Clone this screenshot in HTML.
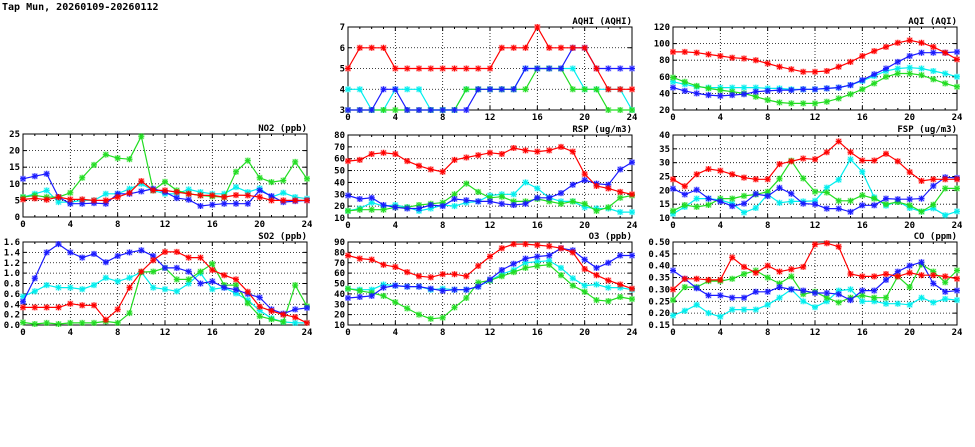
<!DOCTYPE html>
<html><head><meta charset="utf-8"><style>
html,body{margin:0;padding:0;background:#fff;width:975px;height:447px;overflow:hidden}
svg text{font-family:"DejaVu Sans Mono","Liberation Mono",monospace;font-weight:bold;font-size:9px;fill:#000}
</style></head><body>
<svg id="s" width="975" height="447" xmlns="http://www.w3.org/2000/svg">
<text x="2" y="10" style="font-size:10px">Tap Mun, 20260109-20260112</text>
</svg>
<script>
const S=document.getElementById('s');
const C={r:'#ff0000',g:'#22dd22',b:'#1a1aff',c:'#00eeee'};
const panels=[
{t:'AQHI (AQHI)',x:348,y:27,min:3,max:7,step:1,dec:0,d:{
c:[4,4,3,3,4,4,4,3,3,3,4,4,4,4,4,5,5,5,5,5,4,4,4,4,3],
g:[3,3,3,3,3,3,3,3,3,3,4,4,4,4,4,4,5,5,5,4,4,4,3,3,3],
b:[3,3,3,4,4,3,3,3,3,3,3,4,4,4,4,5,5,5,5,6,6,5,5,5,5],
r:[5,6,6,6,5,5,5,5,5,5,5,5,5,6,6,6,7,6,6,6,6,5,4,4,4]}},
{t:'AQI (AQI)',x:673,y:27,min:20,max:120,step:20,dec:0,d:{
c:[54,51,48,47,47,47,47,47,46,46,45,45,45,46,47,50,55,61,67,70,71,70,67,64,60],
g:[59,54,49,46,44,42,40,36,32,29,28,28,28,30,34,39,45,52,60,64,64,62,57,52,48],
b:[47,43,40,38,37,38,39,42,43,44,44,45,45,46,47,50,56,63,70,78,85,89,89,89,90],
r:[90,90,89,87,85,83,82,80,76,72,69,66,66,67,72,78,85,91,96,101,104,101,96,89,81]}},
{t:'NO2 (ppb)',x:23,y:134,min:0,max:25,step:5,dec:0,d:{
c:[6,7,8,4.5,4.5,5,5,7,7,8.5,10,8,7,7,8.3,7.5,7,7,9,7.5,8.6,6,7.3,6,5.5],
g:[6,6.5,6,6,7.3,11.8,15.7,18.8,17.7,17.4,24.3,8,10.6,8,7,6.5,6.2,6,13.6,17,11.8,10.5,11,16.6,11.5],
b:[11.5,12.3,13,6,4,4,4.2,4,7,7,7.7,8.5,7.5,5.7,5.2,3.3,3.7,4,4,4,8,6.3,4.5,4.8,5],
r:[5.3,5.6,5.2,6,5.3,5.3,5,5,6,7.3,10.8,8,8,7.5,7,6.5,6.5,6,6.6,6.5,6,5,5,5,5]}},
{t:'RSP (ug/m3)',x:348,y:135,min:10,max:80,step:10,dec:0,d:{
c:[16,18,23,20,21,19,16,18,21,20,23,24,29,30,30,40,35,27,24,24,19,18,18,15,15],
g:[16,17,17,17,19,19,21,22,23,30,39,32,27,28,24,24,26,24,22,24,22,16,19,27,29],
b:[29,26,27,21,19,18,18,21,20,26,25,24,24,22,21,22,27,27,31,38,42,39,38,51,57],
r:[58,59,64,65,64,58,54,51,49,59,61,63,65,64,69,67,66,67,70,66,47,37,35,32,30]}},
{t:'FSP (ug/m3)',x:673,y:135,min:10,max:40,step:5,dec:0,d:{
c:[11.5,14,17,17,16.5,15.2,12,13.6,18.5,15.5,16,16,16.2,21,23.8,31.2,26.7,17.5,14.5,16,13.6,12.3,13.5,11,12.4],
g:[12.6,14.7,14,14.7,17,17,18,18.5,19.5,24.2,30.7,24.3,19.5,19.2,16.2,16.2,18.2,17,15,15.8,14.6,12.3,14.8,20.7,20.7],
b:[20.6,18.5,20.2,17,16,14.3,15.2,18.7,17.9,20.9,18.8,15.2,15,13.4,13.4,12.2,14.6,14.6,17,16.8,16.8,17,21.6,24.7,24.5],
r:[24,21.5,25.8,27.7,27.1,25.8,24.6,24,24,29.5,30.5,31.5,31.2,33.8,37.7,33.8,30.8,30.8,33.2,30.5,26.6,23.4,24,24,24]}},
{t:'SO2 (ppb)',x:23,y:242,min:0,max:1.6,step:0.2,dec:1,d:{
c:[0.55,0.65,0.77,0.72,0.72,0.69,0.77,0.91,0.84,0.91,1.02,0.72,0.69,0.65,0.8,1.0,0.69,0.72,0.61,0.48,0.28,0.13,0.06,0.04,0.04],
g:[0.05,0.02,0.04,0.02,0.04,0.04,0.04,0.07,0.04,0.23,1.02,1.03,1.1,0.88,0.88,1.03,1.18,0.77,0.77,0.42,0.17,0.11,0.06,0.77,0.36],
b:[0.45,0.9,1.4,1.56,1.4,1.3,1.37,1.21,1.33,1.4,1.44,1.33,1.1,1.1,1.03,0.8,0.84,0.72,0.68,0.6,0.53,0.3,0.22,0.3,0.33],
r:[0.34,0.34,0.34,0.34,0.41,0.38,0.38,0.1,0.3,0.72,1.03,1.25,1.41,1.41,1.3,1.3,1.06,0.96,0.88,0.64,0.35,0.27,0.2,0.15,0.04]}},
{t:'O3 (ppb)',x:348,y:242,min:10,max:90,step:10,dec:0,d:{
c:[45,44,44,49,48,47,47,44,45,44,44,47,53,59,63,70,71,72,65,55,48,49,46,46,44],
g:[45,43,41,38,32,26,20,16,17,27,36,51,53,57,61,65,67,68,58,48,42,34,33,37,35],
b:[36,37,38,46,48,47,47,45,43,44,44,47,54,63,69,74,76,77,84,82,73,65,70,77,77],
r:[77,74,73,68,66,61,57,56,59,59,57,67,76,84,88,88,87,86,84,80,64,58,53,49,45]}},
{t:'CO (ppm)',x:673,y:242,min:0.15,max:0.5,step:0.05,dec:2,d:{
c:[0.19,0.21,0.235,0.20,0.185,0.215,0.215,0.215,0.235,0.265,0.30,0.25,0.225,0.25,0.295,0.30,0.25,0.25,0.24,0.24,0.235,0.265,0.245,0.26,0.255],
g:[0.255,0.31,0.31,0.335,0.335,0.345,0.365,0.38,0.35,0.325,0.355,0.28,0.29,0.265,0.245,0.265,0.275,0.265,0.265,0.355,0.31,0.405,0.375,0.33,0.38],
b:[0.38,0.345,0.305,0.275,0.275,0.265,0.265,0.29,0.29,0.31,0.30,0.295,0.285,0.285,0.28,0.255,0.295,0.295,0.34,0.375,0.40,0.415,0.325,0.29,0.295],
r:[0.30,0.345,0.345,0.34,0.34,0.435,0.395,0.37,0.40,0.375,0.385,0.395,0.49,0.495,0.48,0.365,0.355,0.355,0.365,0.355,0.37,0.36,0.36,0.355,0.345]}}
];
const W=284,H=83;let h='';
for(const p of panels){
 const X=v=>p.x+v*W/24, Y=v=>p.y+H-(v-p.min)/(p.max-p.min)*H;
 const n=Math.round((p.max-p.min)/p.step);
 for(let i=0;i<=n;i++){const v=p.min+i*p.step,y=Y(v);
  if(i>0&&i<n)h+=`<line x1="${p.x}" x2="${p.x+W}" y1="${y}" y2="${y}" stroke="#000" stroke-width="0.8" stroke-dasharray="1,2"/>`;
  h+=`<line x1="${p.x}" x2="${p.x+4}" y1="${y}" y2="${y}" stroke="#000"/><line x1="${p.x+W-4}" x2="${p.x+W}" y1="${y}" y2="${y}" stroke="#000"/>`;
  h+=`<text x="${p.x-3}" y="${y+3}" text-anchor="end">${v.toFixed(p.dec)}</text>`;}
 for(let t=0;t<=24;t++){const x=X(t);
  if(t%4==0){ if(t>0&&t<24)h+=`<line x1="${x}" x2="${x}" y1="${p.y}" y2="${p.y+H}" stroke="#000" stroke-width="0.8" stroke-dasharray="1,2"/>`;
   h+=`<text x="${x}" y="${p.y+H+10}" text-anchor="middle">${t}</text>`;}
  const l=t%4==0?4:2;
  h+=`<line x1="${x}" x2="${x}" y1="${p.y+H}" y2="${p.y+H-l}" stroke="#000"/><line x1="${x}" x2="${x}" y1="${p.y}" y2="${p.y+l}" stroke="#000"/>`;}
 h+=`<rect x="${p.x}" y="${p.y}" width="${W}" height="${H}" fill="none" stroke="#000"/>`;
 h+=`<text x="${p.x+W}" y="${p.y-3}" text-anchor="end">${p.t}</text>`;
 h+=`<g clip-path="none">`;
 for(const k of ['c','g','b','r']){const d=p.d[k],col=C[k];
  const pts=d.map((v,i)=>`${X(i).toFixed(1)},${Y(Math.max(p.min,Math.min(p.max,v))).toFixed(1)}`);
  h+=`<polyline points="${pts.join(' ')}" fill="none" stroke="${col}" stroke-width="1.2"/>`;
  for(const q of pts){const [a,b]=q.split(',').map(Number);
   h+=`<rect x="${a-3}" y="${b-3}" width="6" height="6" fill="${col}" opacity="0.3"/>`+
   `<path d="M${a-3} ${b}H${a+3}M${a} ${b-3}V${b+3}M${a-2.2} ${b-2.2}L${a+2.2} ${b+2.2}M${a-2.2} ${b+2.2}L${a+2.2} ${b-2.2}" stroke="${col}" stroke-width="1"/>`;}
 }
 h+='</g>';
}
S.insertAdjacentHTML('beforeend',h);
</script>
</body></html>
